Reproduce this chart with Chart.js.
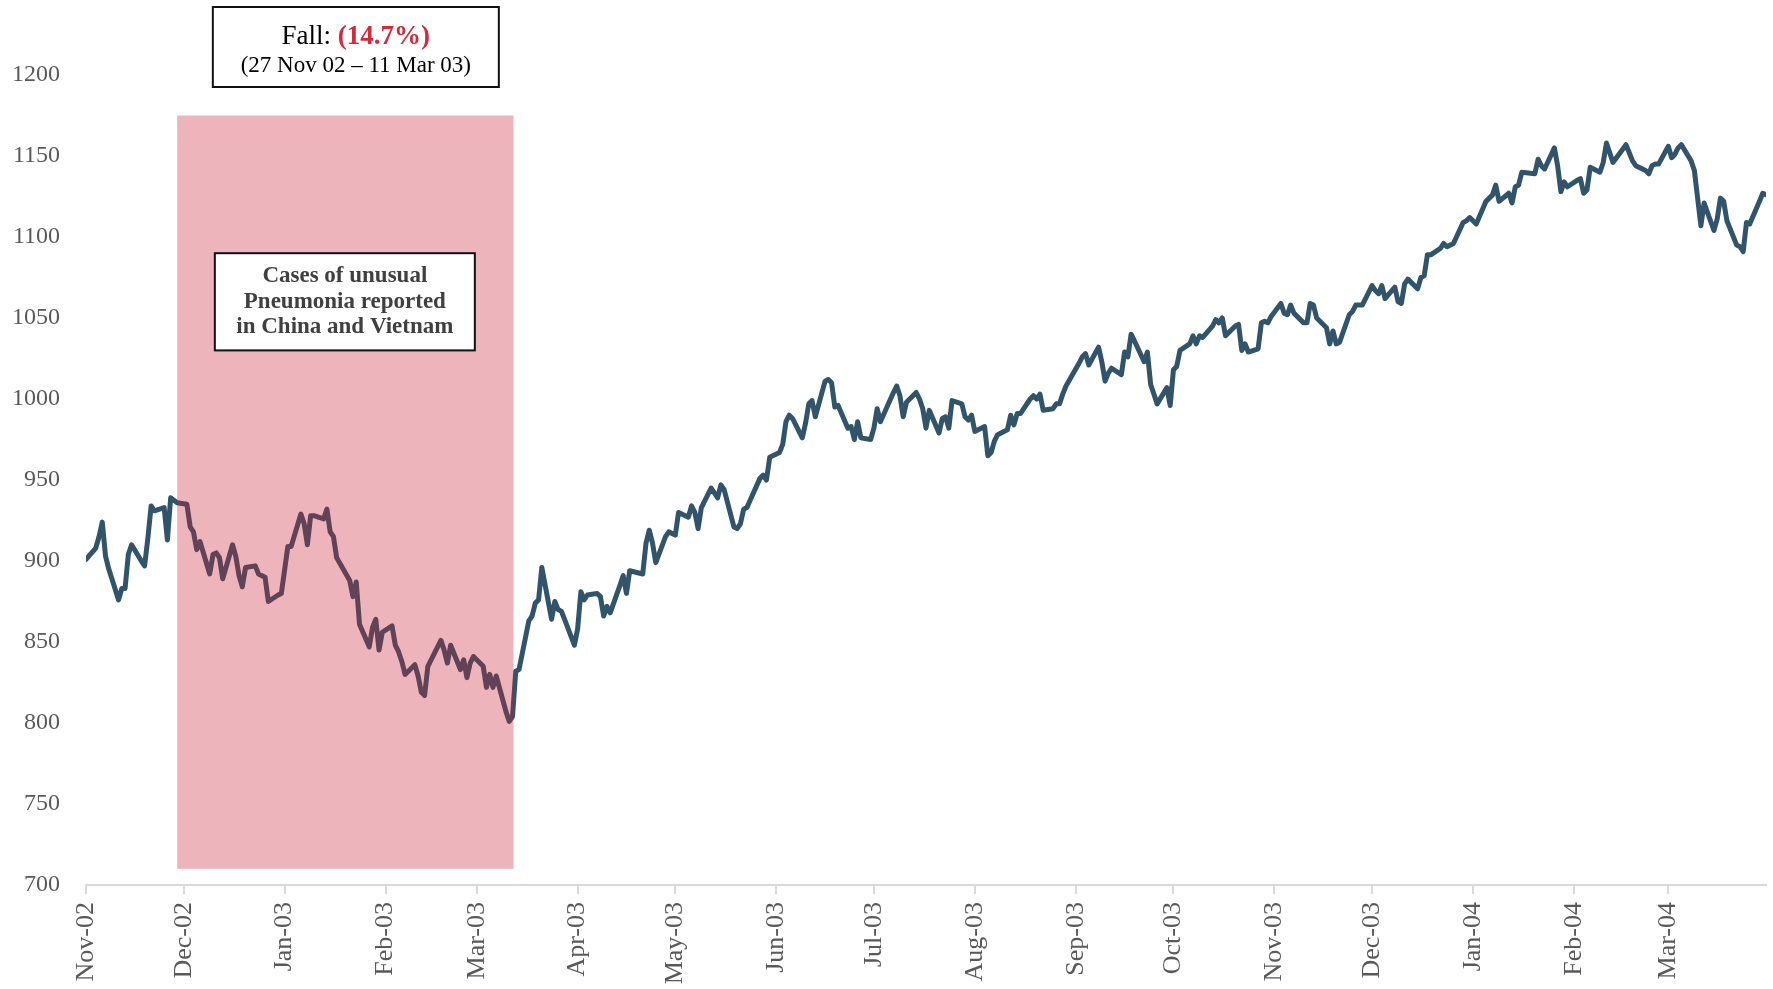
<!DOCTYPE html>
<html>
<head>
<meta charset="utf-8">
<script src="https://cdn.jsdelivr.net/npm/chart.js@4.4.1/dist/chart.umd.min.js"></script>
<style>
  html, body { margin: 0; padding: 0; background: #fff; }
  #wrap { width: 1773px; height: 989px; position: relative; }
</style>
</head>
<body>
<div id="wrap"><canvas id="chart_spx"></canvas></div>
<script>
// axis range (calendar days are counted from startDate)
var startDate = '2002-11-01';
var endDate = '2004-03-31';

var monthLabels = ['Nov-02', 'Dec-02', 'Jan-03', 'Feb-03', 'Mar-03', 'Apr-03', 'May-03', 'Jun-03', 'Jul-03',
    'Aug-03', 'Sep-03', 'Oct-03', 'Nov-03', 'Dec-03', 'Jan-04', 'Feb-04', 'Mar-04'];
var monthStarts = ['2002-11-01', '2002-12-01', '2003-01-01', '2003-02-01', '2003-03-01', '2003-04-01', '2003-05-01',
    '2003-06-01', '2003-07-01', '2003-08-01', '2003-09-01', '2003-10-01', '2003-11-01', '2003-12-01',
    '2004-01-01', '2004-02-01', '2004-03-01'];

// trading days of each month (day of month)
var tradingDays = [
    [1, 4, 5, 6, 7, 8, 11, 12, 13, 14, 15, 18, 19, 20, 21, 22, 25, 26, 27, 29],
    [2, 3, 4, 5, 6, 9, 10, 11, 12, 13, 16, 17, 18, 19, 20, 23, 24, 26, 27, 30, 31],
    [2, 3, 6, 7, 8, 9, 10, 13, 14, 15, 16, 17, 21, 22, 23, 24, 27, 28, 29, 30, 31],
    [3, 4, 5, 6, 7, 10, 11, 12, 13, 14, 18, 19, 20, 21, 24, 25, 26, 27, 28],
    [3, 4, 5, 6, 7, 10, 11, 12, 13, 14, 17, 18, 19, 20, 21, 24, 25, 26, 27, 28, 31],
    [1, 2, 3, 4, 7, 8, 9, 10, 11, 14, 15, 16, 17, 21, 22, 23, 24, 25, 28, 29, 30],
    [1, 2, 5, 6, 7, 8, 9, 12, 13, 14, 15, 16, 19, 20, 21, 22, 23, 27, 28, 29, 30],
    [2, 3, 4, 5, 6, 9, 10, 11, 12, 13, 16, 17, 18, 19, 20, 23, 24, 25, 26, 27, 30],
    [1, 2, 3, 7, 8, 9, 10, 11, 14, 15, 16, 17, 18, 21, 22, 23, 24, 25, 28, 29, 30, 31],
    [1, 4, 5, 6, 7, 8, 11, 12, 13, 14, 15, 18, 19, 20, 21, 22, 25, 26, 27, 28, 29],
    [2, 3, 4, 5, 8, 9, 10, 11, 12, 15, 16, 17, 18, 19, 22, 23, 24, 25, 26, 29, 30],
    [1, 2, 3, 6, 7, 8, 9, 10, 13, 14, 15, 16, 17, 20, 21, 22, 23, 24, 27, 28, 29, 30, 31],
    [3, 4, 5, 6, 7, 10, 11, 12, 13, 14, 17, 18, 19, 20, 21, 24, 25, 26, 28],
    [1, 2, 3, 4, 5, 8, 9, 10, 11, 12, 15, 16, 17, 18, 19, 22, 23, 24, 26, 29, 30, 31],
    [2, 5, 6, 7, 8, 9, 12, 13, 14, 15, 16, 20, 21, 22, 23, 26, 27, 28, 29, 30],
    [2, 3, 4, 5, 6, 9, 10, 11, 12, 13, 17, 18, 19, 20, 23, 24, 25, 26, 27],
    [1, 2, 3, 4, 5, 8, 9, 10, 11, 12, 15, 16, 17, 18, 19, 22, 23, 24, 25, 26, 29, 30, 31]
];

// index close per trading day, month by month
var closes = [
    [901, 908, 915, 924, 903, 895, 876, 883, 883, 904, 910, 900, 897, 914, 934, 931, 933, 913, 939, 936],
    [935, 921, 918, 907, 912, 892, 904, 905, 902, 889, 910, 903, 891, 884, 896, 897, 892, 890, 875, 879, 880],
    [909, 909, 929, 923, 910, 928, 928, 926, 932, 918, 915, 902, 888, 878, 887, 861, 847, 859, 864, 845, 856],
    [860, 848, 844, 838, 830, 836, 829, 819, 817, 835, 851, 845, 837, 848, 833, 839, 828, 837, 841],
    [835, 822, 830, 822, 829, 807, 801, 804, 832, 833, 863, 866, 874, 876, 896, 864, 875, 870, 869, 864, 848],
    [858, 881, 876, 879, 880, 878, 866, 872, 868, 885, 891, 880, 894, 892, 911, 919, 911, 899, 915, 918, 917],
    [916, 930, 927, 934, 930, 920, 933, 945, 942, 939, 947, 944, 921, 920, 923, 932, 933, 951, 953, 950, 964],
    [967, 972, 986, 990, 988, 976, 985, 997, 999, 989, 1011, 1012, 1010, 995, 996, 982, 983, 975, 986, 976, 975],
    [982, 994, 986, 1004, 1008, 1002, 989, 998, 1004, 1000, 994, 982, 993, 979, 988, 989, 982, 999, 997, 989, 987, 990],
    [980, 983, 965, 967, 974, 978, 981, 990, 984, 991, 991, 1000, 1002, 1000, 1003, 993, 994, 997, 997, 1003, 1008],
    [1022, 1026, 1028, 1021, 1032, 1023, 1011, 1016, 1019, 1015, 1029, 1026, 1040, 1036, 1023, 1029, 1009, 1003, 997, 1007, 996],
    [1018, 1020, 1030, 1034, 1039, 1034, 1039, 1038, 1045, 1049, 1047, 1050, 1039, 1045, 1046, 1030, 1034, 1029, 1031, 1047, 1048, 1047, 1051],
    [1059, 1053, 1052, 1058, 1053, 1047, 1047, 1059, 1058, 1050, 1044, 1034, 1042, 1034, 1035, 1052, 1054, 1058, 1058],
    [1070, 1067, 1065, 1070, 1062, 1069, 1060, 1059, 1071, 1074, 1068, 1075, 1076, 1089, 1089, 1093, 1096, 1094, 1096, 1109, 1110, 1112],
    [1108, 1122, 1124, 1126, 1132, 1122, 1127, 1121, 1131, 1132, 1140, 1139, 1148, 1144, 1142, 1155, 1144, 1128, 1134, 1131],
    [1135, 1136, 1127, 1129, 1143, 1140, 1146, 1158, 1152, 1146, 1157, 1152, 1147, 1144, 1141, 1139, 1144, 1145, 1145],
    [1156, 1149, 1151, 1155, 1157, 1147, 1141, 1124, 1107, 1121, 1104, 1111, 1124, 1122, 1110, 1095, 1094, 1091, 1109, 1108, 1122, 1127, 1126]
];

var yTicks = [700, 750, 800, 850, 900, 950, 1000, 1050, 1100, 1150, 1200];

// shaded fall period and its notes
var shadeFrom = '2002-11-29';
var shadeTo = '2003-03-12';
var shadeLow = 710;
var shadeHigh = 1175;
var fallLabel = 'Fall: ';
var fallPct = '(14.7%)';
var fallDates = '(27 Nov 02 \u2013 11 Mar 03)';
var noteLines = ['Cases of unusual', 'Pneumonia reported', 'in China and Vietnam'];
var noteTop = 1090;
var noteBottom = 1030;

function dayNum(s) {
    return (Date.parse(s) - Date.parse(startDate)) / 86400000;
}

var points = [];
for (var m = 0; m < monthStarts.length; m++) {
    var base = dayNum(monthStarts[m]);
    for (var i = 0; i < tradingDays[m].length; i++) {
        points.push({ x: base + tradingDays[m][i] - 1, y: closes[m][i] });
    }
}
var monthTicks = monthStarts.map(dayNum);

var serif = '"Liberation Serif", "DejaVu Serif", serif';

var shadePlugin = {
    id: 'shadePlugin',
    afterDatasetsDraw: function(chart) {
        var ctx = chart.ctx, x = chart.scales.x, y = chart.scales.y;
        var x0 = x.getPixelForValue(dayNum(shadeFrom));
        var x1 = x.getPixelForValue(dayNum(shadeTo)) + 1;
        var y0 = y.getPixelForValue(shadeHigh);
        var y1 = y.getPixelForValue(shadeLow);
        ctx.save();
        ctx.fillStyle = 'rgba(200, 30, 50, 0.33)';
        ctx.fillRect(x0, y0, x1 - x0, y1 - y0);
        ctx.restore();
    }
};

var notesPlugin = {
    id: 'notesPlugin',
    afterDraw: function(chart) {
        var ctx = chart.ctx, x = chart.scales.x, y = chart.scales.y;
        var cx = (x.getPixelForValue(dayNum(shadeFrom)) + x.getPixelForValue(dayNum(shadeTo))) / 2;
        ctx.save();

        // top box with the fall figure
        var bx = cx + 11, bw = 286, btop = chart.chartArea.top - 68, bh = 80;
        ctx.fillStyle = '#ffffff';
        ctx.fillRect(bx - bw / 2, btop, bw, bh);
        ctx.strokeStyle = '#111111';
        ctx.lineWidth = 2;
        ctx.strokeRect(bx - bw / 2, btop, bw, bh);
        ctx.textBaseline = 'alphabetic';
        ctx.font = '27px ' + serif;
        var w1 = ctx.measureText(fallLabel).width;
        ctx.font = 'bold 27px ' + serif;
        var w2 = ctx.measureText(fallPct).width;
        var tx = bx - (w1 + w2) / 2;
        ctx.textAlign = 'left';
        ctx.font = '27px ' + serif;
        ctx.fillStyle = '#000000';
        ctx.fillText(fallLabel, tx, btop + 37);
        ctx.font = 'bold 27px ' + serif;
        ctx.fillStyle = '#D22B3C';
        ctx.fillText(fallPct, tx + w1, btop + 37);
        ctx.font = '23px ' + serif;
        ctx.fillStyle = '#000000';
        ctx.textAlign = 'center';
        ctx.fillText(fallDates, bx, btop + 65);

        // note box inside the shaded band
        var ny0 = y.getPixelForValue(noteTop), ny1 = y.getPixelForValue(noteBottom);
        var nw = 260;
        ctx.fillStyle = '#ffffff';
        ctx.fillRect(cx - nw / 2, ny0, nw, ny1 - ny0);
        ctx.strokeRect(cx - nw / 2, ny0, nw, ny1 - ny0);
        ctx.font = 'bold 23px ' + serif;
        ctx.fillStyle = '#404040';
        ctx.textBaseline = 'middle';
        var mid = (ny0 + ny1) / 2;
        for (var k = 0; k < noteLines.length; k++) {
            ctx.fillText(noteLines[k], cx, mid + (k - 1) * 25.5);
        }
        ctx.restore();
    }
};

var chart_spx = new Chart(document.getElementById('chart_spx'), {
    type: 'line',
    data: {
        datasets: [{
            label: 'Index',
            data: points,
            borderColor: '#31546B',
            borderWidth: 5,
            borderCapStyle: 'round',
            borderJoinStyle: 'round',
            pointRadius: 0,
            tension: 0,
            fill: false
        }]
    },
    options: {
        animation: false,
        responsive: true,
        maintainAspectRatio: false,
        layout: { padding: { left: 10, right: 7, top: 75, bottom: 0 } },
        plugins: {
            legend: { display: false },
            tooltip: { enabled: false },
            title: { display: false }
        },
        scales: {
            x: {
                type: 'linear',
                min: 0,
                max: dayNum(endDate),
                afterBuildTicks: function(scale) {
                    scale.ticks = monthTicks.map(function(v) { return { value: v }; });
                },
                afterFit: function(scale) { scale.height = 104; },
                ticks: {
                    autoSkip: false,
                    minRotation: 90,
                    maxRotation: 90,
                    padding: 8,
                    color: '#595959',
                    font: { family: serif, size: 26 },
                    callback: function(value, index) {
                        return monthLabels[index];
                    }
                },
                grid: {
                    display: true,
                    drawOnChartArea: false,
                    drawTicks: true,
                    tickLength: 9,
                    color: '#D9D9D9',
                    lineWidth: 2
                },
                border: { display: true, color: '#D9D9D9', width: 2 }
            },
            y: {
                type: 'linear',
                min: 700,
                max: 1200,
                afterBuildTicks: function(scale) {
                    scale.ticks = yTicks.map(function(v) { return { value: v }; });
                },
                afterFit: function(scale) { scale.width = 76; },
                ticks: {
                    padding: 26,
                    color: '#595959',
                    font: { family: serif, size: 24 },
                    callback: function(value) { return String(value); }
                },
                grid: { display: false, drawTicks: false },
                border: { display: false }
            }
        }
    },
    plugins: [shadePlugin, notesPlugin]
});
</script>
</body>
</html>
